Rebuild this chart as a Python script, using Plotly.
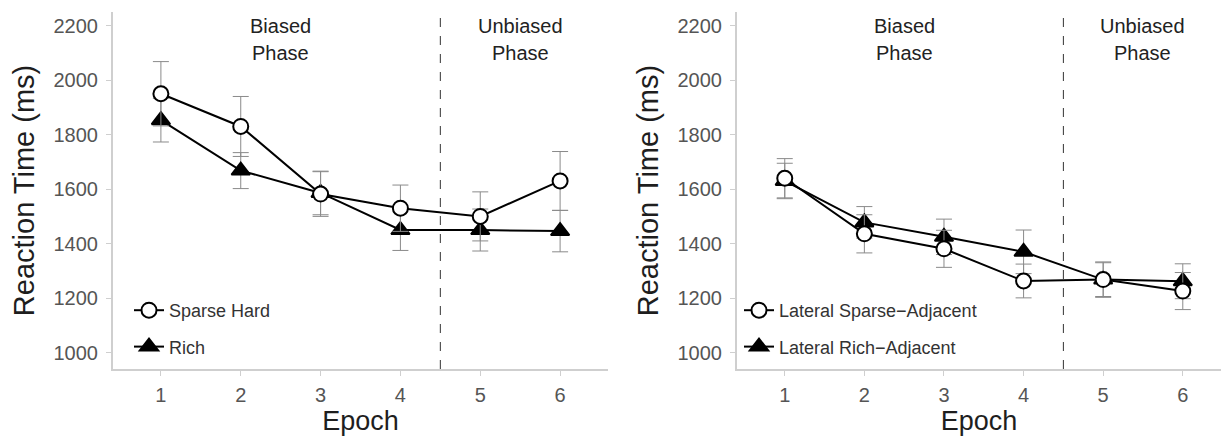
import plotly.graph_objects as go

# Epochs and mean reaction times (ms) with error half-widths
epochs = [1, 2, 3, 4, 5, 6]

sparse_hard = [1950, 1830, 1582, 1530, 1500, 1630]
sparse_hard_err = [118, 110, 82, 85, 90, 108]
rich = [1853, 1668, 1586, 1450, 1450, 1446]
rich_err = [80, 66, 80, 75, 77, 76]

lat_sparse = [1640, 1436, 1381, 1263, 1268, 1226]
lat_sparse_err = [72, 70, 68, 62, 65, 68]
lat_rich = [1630, 1478, 1425, 1370, 1268, 1262]
lat_rich_err = [65, 58, 65, 80, 62, 64]

y_ticks = [1000, 1200, 1400, 1600, 1800, 2000, 2200]
phase_split = 4.5

W, H = 1221, 440
FONT = "Liberation Sans, Arial, sans-serif"
ERR_COLOR = "#8a8a8a"
AXIS_COLOR = "#cfcfcf"
TICK_COLOR = "#555555"
TITLE_COLOR = "#1e1e1e"

fig = go.Figure()


def add_series(name, y, err, symbol, fill, xaxis, yaxis, legend, rank, size):
    fig.add_trace(go.Scatter(
        x=epochs, y=y, name=name, mode="lines+markers",
        xaxis=xaxis, yaxis=yaxis, legend=legend, legendrank=rank,
        legendgroup=name,
        line=dict(color="black", width=2),
        marker=dict(symbol=symbol, size=size, color=fill,
                    line=dict(color="black", width=2)),
        error_y=dict(type="data", array=err, visible=True,
                     color=ERR_COLOR, thickness=1, width=8),
    ))


add_series("Rich", rich, rich_err, "triangle-up", "black", "x", "y", "legend", 2, 16)
add_series("Sparse Hard", sparse_hard, sparse_hard_err, "circle", "white", "x", "y", "legend", 1, 15)
add_series("Lateral Rich\u2212Adjacent", lat_rich, lat_rich_err, "triangle-up", "black", "x2", "y2", "legend2", 2, 16)
add_series("Lateral Sparse\u2212Adjacent", lat_sparse, lat_sparse_err, "circle", "white", "x2", "y2", "legend2", 1, 15)

axis_x = dict(tickvals=epochs, showline=True, linecolor=AXIS_COLOR,
              linewidth=2, ticks="outside", tickcolor=AXIS_COLOR, ticklen=5,
              ticklabelstandoff=2, showgrid=False, zeroline=False,
              tickfont=dict(family=FONT, size=20, color=TICK_COLOR),
              title=dict(text="Epoch", font=dict(family=FONT, size=27, color=TITLE_COLOR),
                         standoff=5))
axis_y = dict(range=[940, 2250], tickvals=y_ticks, showline=True, linecolor=AXIS_COLOR,
              linewidth=2, ticks="outside", tickcolor=AXIS_COLOR, ticklen=5,
              ticklabelstandoff=4, showgrid=False, zeroline=False,
              tickfont=dict(family=FONT, size=20, color=TICK_COLOR),
              title=dict(text="Reaction Time (ms)",
                         font=dict(family=FONT, size=29, color=TITLE_COLOR), standoff=10))

y_dom = [1 - 369 / H, 1 - 12 / H]
legend_style = dict(xanchor="left", yanchor="top", traceorder="grouped",
                    tracegroupgap=10, bgcolor="rgba(0,0,0,0)",
                    font=dict(family=FONT, size=18, color="#333333"))
fig.update_layout(
    width=W, height=H, margin=dict(l=0, r=0, t=0, b=0),
    paper_bgcolor="white", plot_bgcolor="white", showlegend=True,
    xaxis=dict(axis_x, range=[0.4, 6.6], domain=[113 / W, 608 / W], anchor="y"),
    yaxis=dict(axis_y, domain=y_dom, anchor="x"),
    xaxis2=dict(axis_x, range=[0.4, 6.48], domain=[737 / W, 1.0], anchor="y2"),
    yaxis2=dict(axis_y, domain=y_dom, anchor="x2"),
    legend=dict(legend_style, x=129 / W, y=1 - 292 / H),
    legend2=dict(legend_style, x=739 / W, y=1 - 292 / H),
)

# Phase boundary and phase labels on both panels
for xa, ya in (("x", "y"), ("x2", "y2")):
    fig.add_shape(type="line", xref=xa, yref=f"{ya} domain",
                  x0=phase_split, x1=phase_split, y0=0, y1=1,
                  line=dict(color="#333333", width=1, dash="dash"))
    for xc, word in ((2.5, "Biased"), (5.5, "Unbiased")):
        for yc, line_text in ((1 - 26 / H, word), (1 - 53 / H, "Phase")):
            fig.add_annotation(xref=xa, yref="paper", x=xc, y=yc, yanchor="middle",
                               text=line_text, showarrow=False,
                               font=dict(family=FONT, size=20, color="#222222"))

fig.write_html("out.html")
